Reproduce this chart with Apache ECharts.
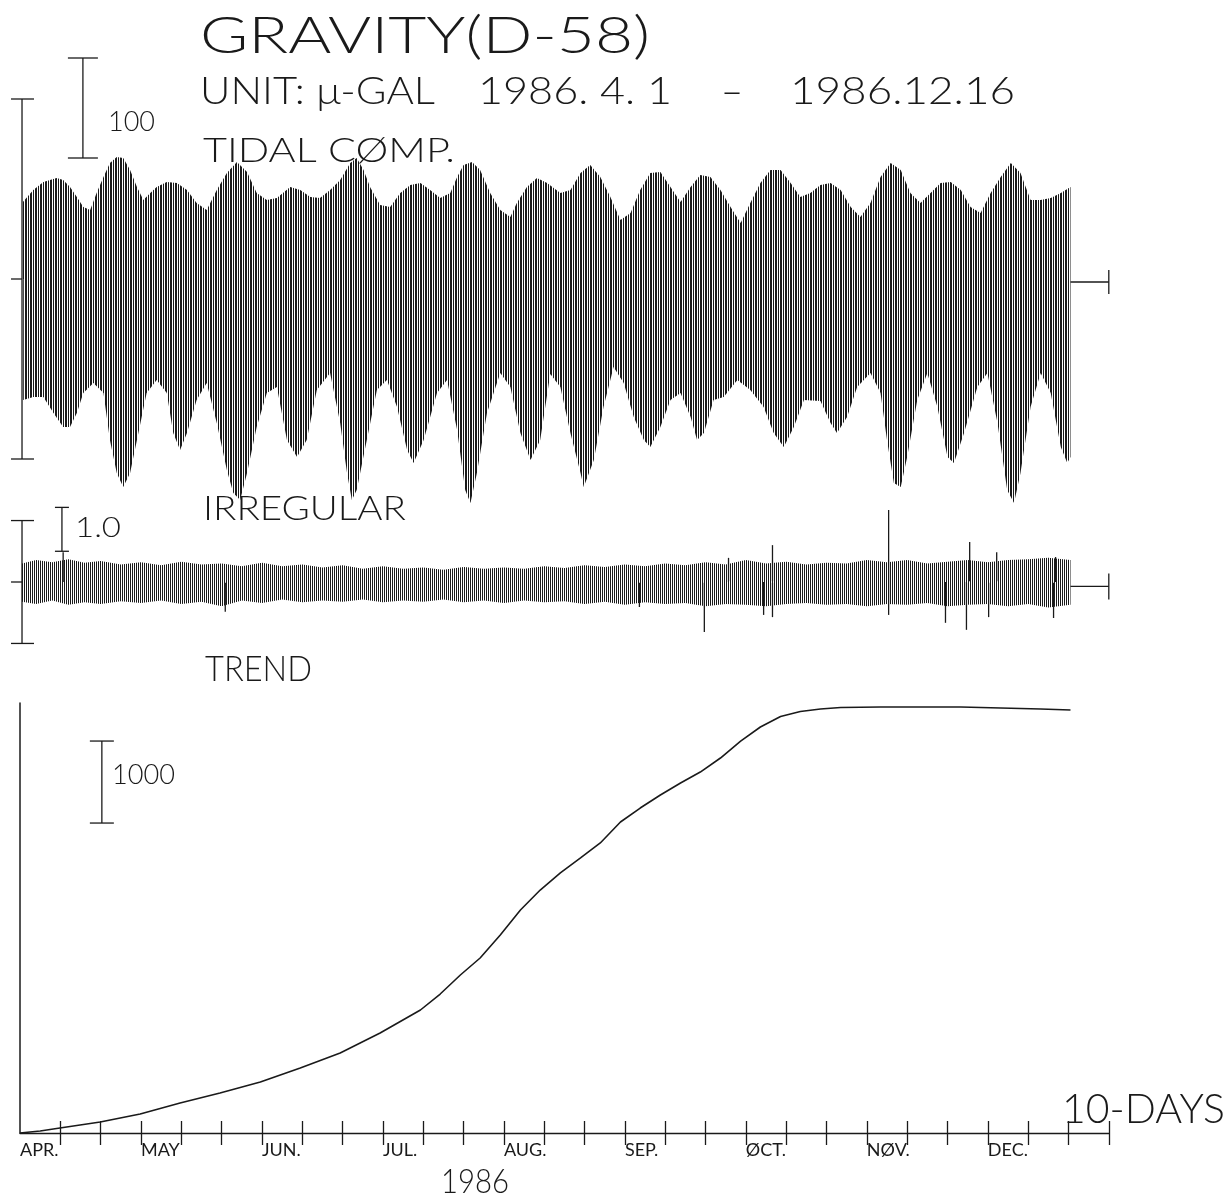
<!DOCTYPE html>
<html>
<head>
<meta charset="utf-8">
<title>GRAVITY(D-58)</title>
<script src="https://cdn.jsdelivr.net/npm/echarts@6/dist/echarts.min.js"></script>
<style>
  html, body { margin: 0; padding: 0; background: #fff; }
  #main { width: 1232px; height: 1196px; }
</style>
</head>
<body>
<div id="main"></div>
<script>
// tidal component, upper / lower envelope (micro-gal). day 0 = 1986-04-01
const tidalHiDay = [0.5, 3.3, 5.8, 9.1, 10.7, 12.4, 14.1, 15.7, 17.4, 19.0, 20.7, 22.3, 24.0, 25.6, 27.3, 29.0, 30.6, 32.3, 33.9, 36.4, 38.9, 41.4, 43.8, 46.3, 48.8, 51.3, 53.8, 56.3, 58.7, 61.2, 63.7, 67.0, 69.5, 72.0, 74.4, 76.9, 79.4, 81.9, 83.5, 85.2, 86.8, 89.3, 91.8, 94.3, 96.8, 99.3, 101.7, 104.2, 106.7, 108.4, 110.0, 112.1, 114.1, 116.6, 119.1, 121.6, 123.2, 125.7, 128.2, 130.7, 134.0, 136.5, 139.0, 141.4, 143.9, 146.4, 148.9, 151.4, 153.8, 156.3, 158.8, 161.3, 163.8, 166.3, 168.7, 171.2, 173.7, 176.2, 178.7, 181.1, 183.6, 186.1, 188.6, 191.1, 193.5, 196.0, 198.5, 201.0, 203.5, 206.0, 208.4, 210.9, 213.4, 215.9, 218.4, 220.8, 223.3, 225.8, 228.3, 230.8, 233.3, 235.7, 238.2, 240.7, 243.2, 245.7, 248.1, 250.6, 253.1, 255.6, 258.1, 260.5]
const tidalHi = [76, 89, 97, 101, 99, 92, 82, 72, 69, 86, 102, 116, 122, 121, 109, 92, 79, 86, 92, 97, 96, 89, 76, 69, 89, 106, 117, 107, 86, 79, 81, 92, 89, 82, 81, 89, 99, 116, 121, 109, 92, 74, 72, 86, 94, 96, 89, 81, 86, 102, 114, 117, 109, 86, 69, 62, 76, 92, 101, 96, 86, 89, 106, 114, 102, 82, 59, 66, 89, 106, 107, 92, 77, 92, 104, 102, 89, 72, 56, 76, 96, 109, 109, 96, 82, 86, 94, 96, 89, 72, 62, 76, 102, 116, 109, 86, 76, 86, 96, 97, 89, 72, 66, 86, 102, 116, 106, 79, 79, 81, 86, 92]
const tidalLoDay = [0.8, 3.3, 5.8, 8.3, 10.7, 12.4, 14.1, 15.7, 18.2, 20.7, 22.3, 24.0, 25.6, 27.3, 29.0, 31.4, 33.9, 36.4, 38.0, 39.7, 41.4, 43.8, 46.3, 48.8, 51.3, 52.9, 54.6, 56.3, 58.7, 61.2, 63.7, 66.2, 68.7, 71.1, 73.6, 76.9, 79.4, 81.1, 82.3, 83.5, 86.0, 88.5, 91.0, 93.5, 96.0, 97.6, 100.1, 103.4, 105.9, 108.4, 110.4, 111.7, 113.3, 115.8, 119.1, 121.6, 124.1, 126.6, 129.0, 131.5, 134.0, 136.5, 139.0, 139.8, 142.3, 144.7, 147.2, 149.7, 152.2, 154.7, 156.3, 158.8, 161.3, 163.8, 166.3, 167.9, 169.6, 172.0, 174.5, 177.9, 181.1, 184.4, 186.9, 189.4, 191.9, 194.4, 198.5, 201.0, 202.6, 205.1, 207.6, 210.9, 213.4, 215.0, 216.7, 218.4, 220.0, 222.5, 225.0, 227.5, 230.0, 231.6, 234.1, 237.4, 239.9, 242.4, 244.8, 246.5, 248.1, 250.6, 253.1, 255.6, 258.1, 259.7, 260.5]
const tidalLo = [-121, -118, -118, -134, -148, -148, -134, -114, -104, -114, -161, -194, -208, -194, -161, -114, -101, -114, -154, -171, -154, -121, -104, -144, -191, -214, -221, -194, -148, -114, -108, -161, -178, -161, -111, -94, -144, -194, -221, -211, -161, -111, -101, -128, -171, -184, -161, -114, -101, -151, -211, -224, -194, -134, -94, -108, -154, -181, -161, -95, -108, -154, -194, -208, -181, -128, -88, -104, -138, -161, -168, -148, -121, -114, -138, -161, -154, -121, -118, -101, -111, -128, -154, -168, -148, -121, -122, -144, -154, -138, -108, -94, -114, -161, -204, -208, -178, -121, -94, -128, -178, -184, -154, -108, -94, -144, -211, -224, -194, -128, -94, -114, -168, -184, -178]

// irregular component, envelope + isolated spikes (micro-gal)
const irrDay = [0.5, 4, 8, 12, 16, 20, 25, 30, 35, 40, 45, 50, 55, 60, 65, 70, 75, 80, 85, 90, 95, 100, 105, 110, 115, 120, 125, 130, 135, 140, 145, 150, 155, 160, 165, 170, 175, 180, 185, 190, 195, 200, 205, 210, 215, 220, 225, 230, 235, 240, 245, 250, 255, 260.5]
const irrHi = [0.42, 0.5, 0.45, 0.52, 0.44, 0.48, 0.4, 0.45, 0.38, 0.46, 0.4, 0.42, 0.36, 0.44, 0.36, 0.4, 0.33, 0.38, 0.3, 0.36, 0.3, 0.33, 0.28, 0.34, 0.3, 0.33, 0.3, 0.36, 0.32, 0.38, 0.34, 0.4, 0.36, 0.42, 0.38, 0.45, 0.4, 0.5, 0.42, 0.46, 0.4, 0.44, 0.42, 0.5, 0.45, 0.5, 0.42, 0.46, 0.5, 0.45, 0.5, 0.52, 0.55, 0.5]
const irrLo = [-0.45, -0.5, -0.42, -0.52, -0.46, -0.5, -0.44, -0.48, -0.42, -0.5, -0.45, -0.55, -0.42, -0.48, -0.4, -0.46, -0.42, -0.45, -0.4, -0.46, -0.42, -0.45, -0.4, -0.46, -0.42, -0.48, -0.42, -0.46, -0.44, -0.5, -0.45, -0.52, -0.46, -0.5, -0.48, -0.55, -0.5, -0.52, -0.55, -0.5, -0.48, -0.52, -0.5, -0.55, -0.5, -0.52, -0.48, -0.55, -0.52, -0.5, -0.55, -0.5, -0.58, -0.52]
const irrSpikeDay = [10.7, 50.9, 153.6, 169.7, 175.7, 184.4, 186.6, 186.6, 215.4, 215.4, 229.5, 234.7, 235.5, 240.2, 242.2, 256.3, 256.8]
const irrSpike = [0.68, -0.68, -0.57, -1.14, 0.55, -0.75, 0.84, -0.8, 1.64, -0.75, -0.93, -1.09, 0.91, -0.8, 0.68, -0.82, 0.57]

// trend (micro-gal)
const trendDay = [0, 5.0, 9.9, 19.9, 29.8, 39.7, 49.6, 59.6, 69.5, 79.4, 89.3, 99.3, 104.2, 109.2, 114.1, 119.1, 124.1, 129.0, 134.0, 139.0, 143.9, 148.9, 153.8, 158.8, 163.8, 168.7, 173.7, 178.7, 183.6, 188.6, 193.5, 198.5, 203.5, 213.4, 223.3, 233.3, 243.2, 253.1, 260.5]
const trendVal = [0, 24, 61, 134, 232, 366, 488, 622, 793, 976, 1220, 1500, 1695, 1927, 2134, 2415, 2720, 2963, 3171, 3354, 3537, 3793, 3963, 4122, 4268, 4402, 4573, 4780, 4951, 5080, 5140, 5171, 5190, 5195, 5195, 5195, 5183, 5171, 5159]

// 10-day axis
const tickDays = [10, 20, 30, 40, 50, 60, 70, 80, 90, 100, 110, 120, 130, 140, 150, 160, 170, 180, 190, 200, 210, 220, 230, 240, 250, 260, 270]
const monthDays = [0, 30, 60, 90, 120, 150, 180, 210, 240]
const monthLabels = ['APR.', 'MAY', 'JUN.', 'JUL.', 'AUG.', 'SEP.', 'ØCT.', 'NØV.', 'DEC.']

const INK = '#1a1a1a'
const FONT = 'Lato, "DejaVu Sans", sans-serif'
const zip = (a, b) => a.map((v, i) => [v, b[i]])

// vertical hatch that stands in for the dense plotter strokes
function stripes(cols) {
  const c = document.createElement('canvas')
  c.width = cols.length; c.height = 4
  const g = c.getContext('2d')
  g.fillStyle = INK
  cols.forEach((on, i) => { if (on) g.fillRect(i, 0, 1, 4) })
  return { image: c, repeat: 'repeat' }
}
const tidalHatch = stripes([1, 1, 0, 1, 0])
const irrHatch = stripes([1, 0])

function seg(p1, p2, w, dash) {
  return { type: 'line', shape: { x1: p1[0], y1: p1[1], x2: p2[0], y2: p2[1] },
    style: { stroke: INK, lineWidth: w || 1.3, lineDash: dash } }
}
// vertical bar with caps (axis brackets and scale bars)
function bracket(api, day, v1, v2, capL, capR, mid) {
  const a = api.coord([day, v1]), b = api.coord([day, v2])
  const out = [seg(a, b), seg([a[0] - capL, a[1]], [a[0] + capR, a[1]]), seg([b[0] - capL, b[1]], [b[0] + capR, b[1]])]
  if (mid) {
    const m = api.coord([day, (v1 + v2) / 2])
    out.push(seg([m[0] - mid, m[1]], [m[0], m[1]]))
  }
  return out
}
function endMark(api, d1, d2, v, h) {
  const a = api.coord([d1, v]), b = api.coord([d2, v])
  return [seg(a, b), seg([b[0], b[1] - h], [b[0], b[1] + h])]
}

const measure = document.createElement('canvas').getContext('2d')
function label(text, left, capTop, capH, width) {
  const fs = capH / 0.72
  const font = '300 ' + fs.toFixed(1) + 'px ' + FONT
  measure.font = font
  const w = measure.measureText(text).width
  return { type: 'text', x: left, y: capTop + capH / 2, scaleX: width / w, silent: true,
    style: { text: text, font: font, fill: INK, align: 'left', verticalAlign: 'middle', textAlign: 'left', textVerticalAlign: 'middle' } }
}

const chart = echarts.init(document.getElementById('main'))
const hideAxis = { show: false }
const band = (xi, data, hatch) => ({ type: 'line', xAxisIndex: xi, yAxisIndex: xi, data: data, symbol: 'none',
  lineStyle: { width: 0 }, areaStyle: { color: hatch, opacity: 1 } })

const option = {
  animation: false,
  backgroundColor: '#fff',
  grid: [
    { left: 20, width: 1088.8, top: 49, height: 460 },
    { left: 20, width: 1088.8, top: 503, height: 158 },
    { left: 20, width: 1088.8, top: 703, height: 430 }
  ],
  xAxis: [
    { gridIndex: 0, type: 'value', min: 0, max: 270, ...hideAxis },
    { gridIndex: 1, type: 'value', min: 0, max: 270, ...hideAxis },
    {
      gridIndex: 2, type: 'value', min: 0, max: 270, position: 'bottom',
      axisLine: { show: true, lineStyle: { color: INK, width: 1.3 } },
      axisTick: { show: true, customValues: tickDays, length: 12, lineStyle: { color: INK, width: 1.3 } },
      axisLabel: { customValues: monthDays, formatter: v => monthLabels[Math.round(v / 30)],
        align: 'left', margin: 8, color: INK, fontFamily: FONT, fontWeight: 400, fontSize: 18 },
      splitLine: { show: false }
    },
    {
      gridIndex: 2, type: 'value', min: 0, max: 270, position: 'bottom',
      axisLine: { show: false },
      axisTick: { show: true, inside: true, customValues: tickDays, length: 12, lineStyle: { color: INK, width: 1.3 } },
      axisLabel: { show: false }, splitLine: { show: false }
    }
  ],
  yAxis: [
    { gridIndex: 0, type: 'value', min: -230, max: 230, ...hideAxis },
    { gridIndex: 1, type: 'value', min: -1.8, max: 1.8, ...hideAxis },
    { gridIndex: 2, type: 'value', min: 0, max: 5244,
      axisLine: { show: true, lineStyle: { color: INK, width: 1.5 } },
      axisTick: { show: false }, axisLabel: { show: false }, splitLine: { show: false } }
  ],
  series: [
    // tidal
    band(0, zip(tidalHiDay, tidalHi), tidalHatch),
    band(0, zip(tidalLoDay, tidalLo), tidalHatch),
    { type: 'custom', xAxisIndex: 0, yAxisIndex: 0, data: [[0, 0]], silent: true, clip: false,
      renderItem: (p, api) => ({ type: 'group', children: [
        ...bracket(api, 0.5, -180, 180, 11, 12, 11),
        ...bracket(api, 15.6, 121, 221, 15, 15),
        ...endMark(api, 260.5, 270, -3, 12)
      ] }) },
    // irregular
    band(1, zip(irrDay, irrHi), irrHatch),
    band(1, zip(irrDay, irrLo), irrHatch),
    { type: 'custom', xAxisIndex: 1, yAxisIndex: 1, data: zip(irrSpikeDay, irrSpike), silent: true, clip: false,
      renderItem: (p, api) => seg(api.coord([api.value(0), 0]), api.coord([api.value(0), api.value(1)]), 1.3) },
    { type: 'custom', xAxisIndex: 1, yAxisIndex: 1, data: [[0, 0]], silent: true, clip: false,
      renderItem: (p, api) => {
        const a = api.coord([0.5, 0]), b = api.coord([260.5, 0])
        return { type: 'group', children: [
          { type: 'line', shape: { x1: a[0], y1: a[1], x2: b[0], y2: b[1] },
            style: { stroke: '#fff', lineWidth: 1.5, lineDash: [4, 3] } },
          ...bracket(api, 0.5, -1.4, 1.4, 11, 12, 11),
          ...bracket(api, 10.4, 0.7, 1.7, 7, 7),
          ...endMark(api, 260.5, 270, -0.1, 13)
        ] }
      } },
    // trend
    { type: 'line', xAxisIndex: 2, yAxisIndex: 2, data: zip(trendDay, trendVal), symbol: 'none',
      lineStyle: { color: INK, width: 1.6 } },
    { type: 'custom', xAxisIndex: 2, yAxisIndex: 2, data: [[0, 0]], silent: true, clip: false,
      renderItem: (p, api) => ({ type: 'group', children: bracket(api, 20.3, 3780, 4780, 12, 12) }) }
  ],
  graphic: [
    label('GRAVITY(D-58)', 200, 18, 37, 450),
    label('UNIT: μ-GAL', 200, 78, 27, 235),
    label('1986. 4. 1', 478, 78, 27, 194),
    label('-', 720, 78, 27, 24),
    label('1986.12.16', 790, 78, 27, 225),
    label('100', 108, 112, 20, 47),
    label('TIDAL CØMP.', 203, 139, 24, 252),
    label('IRREGULAR', 203, 497, 24, 203),
    label('1.0', 75, 518, 20, 46),
    label('TREND', 205, 657, 25, 107),
    label('1000', 112, 765, 20, 63),
    label('10-DAYS', 1062, 1095, 30, 163),
    label('1986', 441, 1170, 24, 68)
  ]
}

chart.setOption(option)
</script>
</body>
</html>
